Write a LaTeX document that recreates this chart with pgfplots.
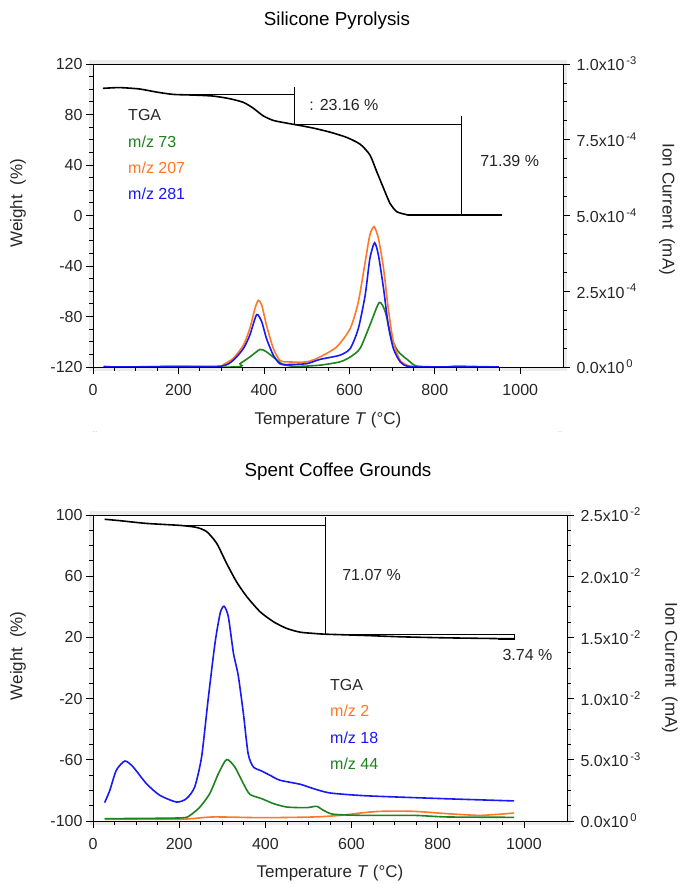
\documentclass[border=0pt]{standalone}
\usepackage{fontspec}
\setmainfont{Liberation Sans}
\usepackage{pgfplots}
\pgfplotsset{compat=1.18}

\definecolor{tgagray}{RGB}{40,40,40}
\definecolor{msgreen}{RGB}{30,130,30}
\definecolor{msorange}{RGB}{255,120,40}
\definecolor{msblue}{RGB}{25,25,245}

\tikzset{
  tga/.style={black, line width=1.6pt, smooth, tension=0.4},
  stepline/.style={black, line width=1.3pt},
  ion/.style={line width=1.6pt, smooth, tension=0.4},
  lbl/.style={inner sep=0pt, anchor=west, font=\fontsize{16}{19}\selectfont},
}

\pgfplotsset{
  common/.style={
    scale only axis,
    xmin=0, xmax=1100,
    tick align=outside,
    major tick length=7pt, minor tick length=4pt,
    axis line style={black, line width=0.8pt},
    tick style={black, line width=0.8pt},
    tick label style={font=\fontsize{16}{19}\selectfont, text=black!85},
    label style={font=\fontsize{17}{20}\selectfont, text=black!85},
    /pgf/number format/assume math mode=true,
    /pgf/number format/1000 sep={},
    minor y tick num=3,
  },
  leftax/.style={
    common,
    axis background/.style={fill=white},
    xtick={0,200,...,1000}, minor x tick num=3,
    xtick pos=bottom, ytick pos=left,
    xticklabel style={yshift=-7pt},
    title style={font=\fontsize{18.8}{22}\selectfont, anchor=center},
  },
  rightax/.style={
    common,
    axis x line=none, axis y line*=right,
    scaled y ticks=false,
    yticklabel style={xshift=3pt},
    ylabel style={anchor=center, rotate=180},
  },
}

\begin{document}
\begin{tikzpicture}
\useasboundingbox (0,0) rectangle (681pt,884pt);
\fill[gray!15] (89pt,513pt) rectangle (567pt,824pt);
\fill[gray!15] (89pt,59pt) rectangle (571pt,373pt);

% ---------- Silicone Pyrolysis ----------
\begin{axis}[leftax,
  at={(93pt,517pt)}, anchor=south west, width=470pt, height=303pt,
  ymin=-120, ymax=120, ytick={-120,-80,...,120},
  title={Silicone Pyrolysis}, title style={at={(0.519,1.122)}},
  xlabel={Temperature \textit{T} (°C)}, xlabel style={at={(0.5,-0.175)}, anchor=center},
  ylabel={Weight\ \ (\%)}, ylabel style={at={(-0.1596,0.54)}, anchor=center},
]
\addplot[tga] coordinates {(23,100.7)(62,101.3)(109,100.2)(148,97.8)(188,95.9)(234,95.4)(281,94.6)(320,92.5)(352,89.6)(375,85)(398,79)(422,75.3)(453,73.2)(484,71.3)(516,69.2)(555,66)(594,61.8)(625,56.5)(648,48)(664,34.8)(680,21.6)(695,9.7)(711,3)(734,0.7)(750,0.4)(957,0.4)};
\addplot[stepline] coordinates {(188,95.7)(471,95.7)};
\addplot[stepline] coordinates {(471,101.5)(471,71.8)};
\addplot[stepline] coordinates {(471,71.8)(862,71.8)};
\addplot[stepline] coordinates {(862,78.5)(862,0.4)};
\node[lbl, text=black!85] at (axis cs:506,87.7) {: 23.16 \%};
\node[lbl, text=black!85] at (axis cs:906,43.3) {71.39 \%};
\node[lbl, text=tgagray] at (axis cs:82,79.3) {TGA};
\node[lbl, text=msgreen] at (axis cs:82,58.6) {m/z 73};
\node[lbl, text=msorange] at (axis cs:82,38) {m/z 207};
\node[lbl, text=msblue] at (axis cs:82,17.3) {m/z 281};
\end{axis}

\begin{axis}[rightax,
  at={(93pt,517pt)}, anchor=south west, width=470pt, height=303pt,
  ymin=0, ymax=1e-3, ytick={0,2.5e-4,5e-4,7.5e-4,1e-3},
  yticklabels={0.0x10\textsuperscript{\,0},2.5x10\textsuperscript{\,-4},5.0x10\textsuperscript{\,-4},7.5x10\textsuperscript{\,-4},1.0x10\textsuperscript{\,-3}},
  ylabel={Ion Current\ \ (mA)}, ylabel style={at={(1.2213,0.52)}},
]
\addplot[ion, msgreen] coordinates {(25,0)(330,0)(344,0.11e-4)(367,0.33e-4)(391,0.58e-4)(406,0.5e-4)(426,0.28e-4)(445,0.08e-4)(477,0.02e-4)(531,0.06e-4)(578,0.17e-4)(602,0.33e-4)(625,0.61e-4)(648,1.38e-4)(670,2.13e-4)(684,1.82e-4)(699,0.94e-4)(715,0.5e-4)(738,0.22e-4)(758,0.03e-4)(820,0)(850,0.03e-4)(880,0.02e-4)(950,0)};
\addplot[ion, msorange] coordinates {(25,0)(100,0)(200,0.02e-4)(297,0)(305,0.08e-4)(328,0.28e-4)(352,0.72e-4)(367,1.27e-4)(379,1.93e-4)(387,2.2e-4)(395,2.04e-4)(406,1.38e-4)(422,0.61e-4)(437,0.22e-4)(453,0.17e-4)(500,0.17e-4)(531,0.33e-4)(570,0.66e-4)(602,1.27e-4)(621,2.15e-4)(637,3.47e-4)(648,4.36e-4)(658,4.63e-4)(668,4.24e-4)(680,3.25e-4)(691,1.93e-4)(703,0.83e-4)(719,0.22e-4)(742,0.03e-4)(800,0)(950,0)};
\addplot[ion, msblue] coordinates {(25,0.02e-4)(60,0)(190,0.02e-4)(300,0.03e-4)(328,0.22e-4)(352,0.61e-4)(367,1.05e-4)(383,1.73e-4)(395,1.49e-4)(406,0.94e-4)(422,0.39e-4)(437,0.11e-4)(453,0.08e-4)(500,0.11e-4)(531,0.25e-4)(578,0.39e-4)(602,0.61e-4)(621,1.27e-4)(637,2.37e-4)(648,3.58e-4)(659,4.1e-4)(668,3.69e-4)(680,2.59e-4)(691,1.38e-4)(703,0.61e-4)(719,0.17e-4)(738,0.02e-4)(800,0)(950,0)};
\end{axis}

\node[text=gray, font=\fontsize{5}{5}\selectfont] at (95pt,452pt) {...};
\node[text=gray, font=\fontsize{5}{5}\selectfont] at (560pt,452pt) {...};

% ---------- Spent Coffee Grounds ----------
\begin{axis}[leftax,
  at={(93pt,63pt)}, anchor=south west, width=474pt, height=306pt,
  ymin=-100, ymax=100, ytick={-100,-60,...,100},
  title={Spent Coffee Grounds}, title style={at={(0.517,1.121)}},
  xlabel={Temperature \textit{T} (°C)}, xlabel style={at={(0.5,-0.170)}, anchor=center},
  ylabel={Weight\ \ (\%)}, ylabel style={at={(-0.158,0.54)}, anchor=center},
]
\addplot[tga] coordinates {(27,97.2)(62,96.3)(124,94.5)(202,93.2)(240,91.9)(264,89.1)(287,81.5)(310,68.4)(333,56.4)(357,46.6)(388,36.7)(419,30.2)(450,25.8)(481,23.4)(512,22.6)(539,22.1)(628,21.3)(713,20.4)(822,19.7)(977,19.1)};
\addplot[stepline] coordinates {(209,93)(539,93)};
\addplot[stepline] coordinates {(539,98.5)(539,22.1)};
\addplot[stepline] coordinates {(539,22.1)(978,22.1)(978,18.7)(940,18.7)};
\node[lbl, text=black!85] at (axis cs:578,60.7) {71.07 \%};
\node[lbl, text=black!85] at (axis cs:950,8.4) {3.74 \%};
\node[lbl, text=tgagray] at (axis cs:550,-11.2) {TGA};
\node[lbl, text=msorange] at (axis cs:550,-28.2) {m/z 2};
\node[lbl, text=msblue] at (axis cs:550,-45.5) {m/z 18};
\node[lbl, text=msgreen] at (axis cs:550,-62.5) {m/z 44};
\end{axis}

\begin{axis}[rightax,
  at={(93pt,63pt)}, anchor=south west, width=474pt, height=306pt,
  ymin=0, ymax=2.5e-2, ytick={0,5e-3,1e-2,1.5e-2,2e-2,2.5e-2},
  yticklabels={0.0x10\textsuperscript{\,0},5.0x10\textsuperscript{\,-3},1.0x10\textsuperscript{\,-2},1.5x10\textsuperscript{\,-2},2.0x10\textsuperscript{\,-2},2.5x10\textsuperscript{\,-2}},
  ylabel={Ion Current\ \ (mA)}, ylabel style={at={(1.217,0.5)}},
]
\addplot[ion, msorange] coordinates {(27,0.14e-3)(202,0.14e-3)(279,0.33e-3)(395,0.27e-3)(512,0.33e-3)(574,0.46e-3)(628,0.68e-3)(667,0.79e-3)(744,0.79e-3)(822,0.6e-3)(899,0.46e-3)(977,0.65e-3)};
\addplot[ion, msgreen] coordinates {(27,0.19e-3)(202,0.25e-3)(225,0.46e-3)(248,1.14e-3)(271,2.24e-3)(291,3.87e-3)(310,5.02e-3)(329,4.42e-3)(349,3.05e-3)(364,2.18e-3)(391,1.83e-3)(419,1.42e-3)(450,1.14e-3)(496,1.09e-3)(519,1.2e-3)(535,0.87e-3)(558,0.55e-3)(628,0.46e-3)(744,0.46e-3)(822,0.33e-3)(977,0.3e-3)};
\addplot[ion, msblue] coordinates {(27,1.5e-3)(39,2.5e-3)(54,4.14e-3)(74,4.9e-3)(93,4.42e-3)(124,3.05e-3)(155,2.1e-3)(194,1.55e-3)(217,1.83e-3)(236,2.78e-3)(252,5.23e-3)(267,9.87e-3)(283,14.5e-3)(295,16.96e-3)(304,17.55e-3)(314,16.7e-3)(326,13.7e-3)(337,11.9e-3)(349,8.78e-3)(360,5.5e-3)(372,4.42e-3)(391,4.09e-3)(411,3.73e-3)(434,3.33e-3)(481,3.0e-3)(512,2.64e-3)(550,2.29e-3)(628,2.07e-3)(744,1.91e-3)(860,1.77e-3)(977,1.64e-3)};
\end{axis}
\end{tikzpicture}
\end{document}
